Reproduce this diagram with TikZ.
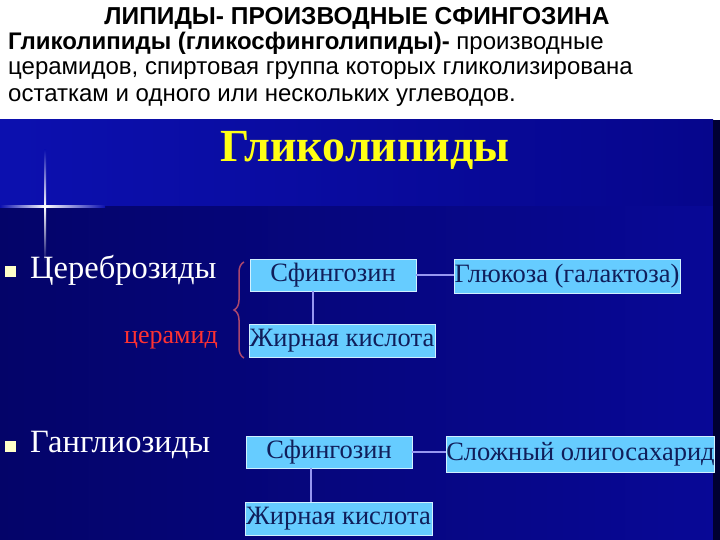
\documentclass[tikz,border=0pt]{standalone}
\usepackage{fontspec}
\setmainfont{Liberation Serif}
\newfontfamily\arialfont{Liberation Sans}
\usetikzlibrary{decorations.pathreplacing}
\definecolor{bandblue}{RGB}{12,16,175}
\definecolor{bandright}{RGB}{6,6,140}
\definecolor{panelleft}{RGB}{4,4,105}
\definecolor{panelright}{RGB}{8,8,150}
\definecolor{boxblue}{RGB}{102,204,255}
\definecolor{boxtext}{RGB}{16,30,90}
\definecolor{linkblue}{RGB}{150,150,240}
\definecolor{bracecol}{RGB}{170,70,110}
\definecolor{ceramred}{RGB}{255,50,50}
\definecolor{bulletcream}{RGB}{255,255,200}
\definecolor{glyellow}{RGB}{255,255,20}
\tikzset{
  part/.style={draw=white!70!boxblue, line width=0.8pt, fill=boxblue, text=boxtext,
    font=\fontsize{26.5}{28}\selectfont, inner sep=0pt},
  link/.style={draw=linkblue, line width=1.6pt},
  kind/.style={text=white, font=\fontsize{32.5}{34}\selectfont, anchor=west, inner sep=0pt},
  bullet/.style={fill=bulletcream, minimum size=11pt, inner sep=0pt},
  intro/.style={anchor=base west, inner sep=0pt, font=\arialfont\fontsize{24}{26}\selectfont}
}
\begin{document}
\begin{tikzpicture}[x=1pt,y=-1pt]
\useasboundingbox (0,0) rectangle (720,540);
\fill[white] (0,0) rectangle (720,540);
%panel
\shade[left color=bandblue, right color=bandright] (0,120) rectangle (713,207);
\shade[left color=panelleft, right color=panelright] (0,207) rectangle (713,540);
\fill[black!80!blue] (713,120) rectangle (720,540);
%star
\shade[left color=white, right color=bandblue] (45,206) rectangle (105,208);
\shade[right color=white, left color=bandblue] (0,206) rectangle (45,208);
\shade[bottom color=white, top color=bandblue] (44,150) rectangle (46,207);
\shade[top color=white, bottom color=panelleft] (44,207) rectangle (46,262);
%text above
\node[intro, anchor=base, font=\arialfont\bfseries\fontsize{24.5}{26}\selectfont] (head) at (357,25) {ЛИПИДЫ- ПРОИЗВОДНЫЕ СФИНГОЗИНА};
\node[intro] (line1) at (8,50) {\textbf{Гликолипиды (гликосфинголипиды)-} производные};
\node[intro] (line2) at (8,75) {церамидов, спиртовая группа которых гликолизирована};
\node[intro] (line3) at (8,102) {остаткам и одного или нескольких углеводов.};
%title
\node[text=glyellow, font=\bfseries\fontsize{46}{48}\selectfont] (title) at (365,150) {Гликолипиды};
%cerebrosides
\node[bullet] (b1) at (10,271) {};
\node[kind] (cer) at (30,270) {Цереброзиды};
\node[text=ceramred, font=\fontsize{26}{28}\selectfont, anchor=east, inner sep=0pt] (ceram) at (218,340) {церамид};
\node[part, minimum width=166pt, minimum height=32pt] (s1) at (333,275) {Сфингозин};
\node[part, minimum width=186pt, minimum height=33pt] (f1) at (342,341) {Жирная кислота};
\node[part, minimum width=226pt, minimum height=34pt] (g1) at (567,276) {Глюкоза (галактоза)};
\draw[link] ([xshift=-20pt]s1.south) -- ([xshift=-20pt]s1.south |- f1.north);
\draw[link] (s1.east) -- (s1.east -| g1.west);
\draw[bracecol, line width=1.5pt, decorate, decoration={brace, amplitude=10pt}] (244,358) -- (244,262);
%gangliosides
\node[bullet] (b2) at (10,446) {};
\node[kind] (gan) at (30,445) {Ганглиозиды};
\node[part, minimum width=166pt, minimum height=32pt] (s2) at (329,452) {Сфингозин};
\node[part, minimum width=187pt, minimum height=33pt] (f2) at (338.5,518.5) {Жирная кислота};
\node[part, minimum width=265pt, minimum height=36pt] (o2) at (580.5,454) {Сложный олигосахарид};
\draw[link] ([xshift=-18pt]s2.south) -- ([xshift=-18pt]s2.south |- f2.north);
\draw[link] (s2.east) -- (s2.east -| o2.west);
\end{tikzpicture}
\end{document}
